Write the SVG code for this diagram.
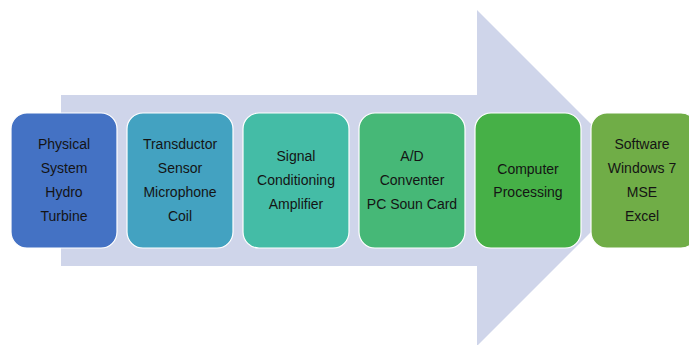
<svg xmlns="http://www.w3.org/2000/svg" width="689" height="345" viewBox="0 0 689 345">
<style>
.box{stroke:#ffffff;stroke-width:1.2}
.t{font-family:"Liberation Sans",Arial,sans-serif;font-size:14px;fill:#141414;text-anchor:middle;dominant-baseline:central}
</style>
<rect width="689" height="345" fill="#ffffff"/>
<g id="arrow">
<polygon points="61,95 477,95 477,10 645,178 477,346 477,266 61,266" fill="#cfd5ea"/>
</g>
<g id="connectors"></g>
<g id="n1">
<rect class="box" x="11" y="113" width="106" height="135" rx="16" fill="#4472c4"/>
<text class="t" x="64" y="144">Physical</text>
<text class="t" x="64" y="168">System</text>
<text class="t" x="64" y="192">Hydro</text>
<text class="t" x="64" y="216">Turbine</text>
</g>
<g id="n2">
<rect class="box" x="127" y="113" width="106" height="135" rx="16" fill="#43a2c1"/>
<text class="t" x="180" y="144">Transductor</text>
<text class="t" x="180" y="168">Sensor</text>
<text class="t" x="180" y="192">Microphone</text>
<text class="t" x="180" y="216">Coil</text>
</g>
<g id="n3">
<rect class="box" x="243" y="113" width="106" height="135" rx="16" fill="#44bca6"/>
<text class="t" x="296" y="156">Signal</text>
<text class="t" x="296" y="180">Conditioning</text>
<text class="t" x="296" y="204">Amplifier</text>
</g>
<g id="n4">
<rect class="box" x="359" y="113" width="106" height="135" rx="16" fill="#46b877"/>
<text class="t" x="412" y="156">A/D</text>
<text class="t" x="412" y="180">Conventer</text>
<text class="t" x="412" y="204">PC Soun Card</text>
</g>
<g id="n5">
<rect class="box" x="475" y="113" width="106" height="135" rx="16" fill="#46b047"/>
<text class="t" x="528" y="169">Computer</text>
<text class="t" x="528" y="192">Processing</text>
</g>
<g id="n6">
<rect class="box" x="591" y="113" width="106" height="135" rx="16" fill="#70ad47"/>
<text class="t" x="642" y="144">Software</text>
<text class="t" x="642" y="168">Windows 7</text>
<text class="t" x="642" y="192">MSE</text>
<text class="t" x="642" y="216">Excel</text>
</g>
</svg>
